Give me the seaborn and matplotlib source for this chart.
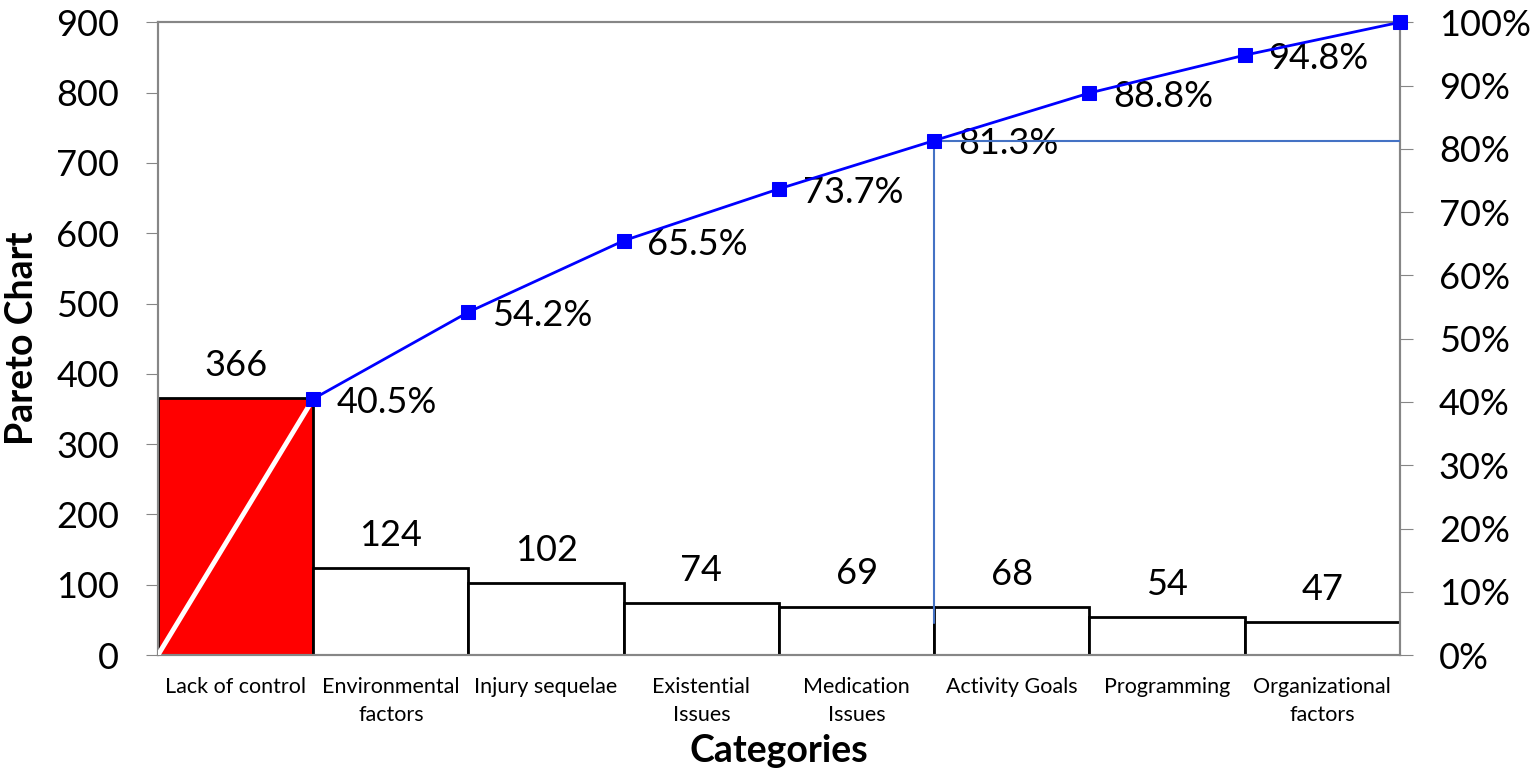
import numpy as np
import pandas as pd
import matplotlib
matplotlib.use('Agg')
import matplotlib.pyplot as plt
import seaborn as sns
from matplotlib.ticker import PercentFormatter

# data
categories = ['Lack of control', 'Environmental\nfactors', 'Injury sequelae', 'Existential\nIssues',
              'Medication\nIssues', 'Activity Goals', 'Programming', 'Organizational\nfactors']
counts = [366, 124, 102, 74, 69, 68, 54, 47]
bar_colors = ['#FF0000'] + ['#FFFFFF'] * 7

cum = np.cumsum(counts) / np.sum(counts)
cum_labels = ['%.1f%%' % (c * 100) for c in cum]

sns.set_style('white')
plt.rcParams['font.family'] = ['Lato', 'DejaVu Sans']
plt.rcParams['text.color'] = 'black'
plt.rcParams['axes.labelcolor'] = 'black'
plt.rcParams['xtick.color'] = 'black'
plt.rcParams['ytick.color'] = 'black'

df = pd.DataFrame({'cat': categories, 'count': counts})

fig = plt.figure(figsize=(15.32, 7.68), dpi=100)
ax = fig.add_axes([0.1031, 0.147, 0.8107, 0.824])

sns.barplot(data=df, x='cat', y='count', hue='cat', palette=bar_colors, legend=False,
            saturation=1, width=1.0, edgecolor='black', linewidth=2, ax=ax, zorder=2)
ax.set_xlim(-0.5, len(categories) - 0.5)
ax.set_ylim(0, 900)
ax.set_yticks(range(0, 901, 100))

# bar value labels
for i, v in enumerate(counts):
    ax.annotate(str(v), (i, v), xytext=(0, 16), textcoords='offset points',
                ha='center', va='baseline', fontsize=26)

ax.set_xlabel('Categories', fontsize=27, fontweight='bold', labelpad=7)
ax.set_ylabel('Pareto Chart', fontsize=27, fontweight='bold', labelpad=12)
ax.tick_params(axis='y', labelsize=26, length=9, color='#868686', left=True, pad=19)
ax.tick_params(axis='x', labelsize=15.5, length=0, pad=16)
for t in ax.get_xticklabels():
    t.set_linespacing(1.45)

# cumulative line on secondary axis
ax2 = ax.twinx()
ax2.set_ylim(0, 1)
ax2.set_yticks(np.arange(0, 1.01, 0.1))
ax2.yaxis.set_major_formatter(PercentFormatter(1.0, decimals=0))
ax2.tick_params(axis='y', labelsize=26, length=9, color='#868686', right=True, pad=19)

xs = np.arange(len(categories)) + 0.5
ax2.plot([-0.5, xs[0]], [0, cum[0]], color='white', linewidth=3.5, zorder=3)
sns.lineplot(x=xs, y=cum, color='#0000FF', linewidth=2, marker='s', markersize=10.5,
             markeredgecolor='#0000FF', ax=ax2, zorder=4, clip_on=False)

for x, c, lab in zip(xs[:-1], cum[:-1], cum_labels[:-1]):
    ax2.annotate(lab, (x, c), xytext=(17, -10), textcoords='offset points',
                 ha='left', va='baseline', fontsize=26)

# 80% reference lines
ax2.plot([xs[4], xs[4]], [0.05, cum[4]], color='#4472C4', linewidth=1.5, zorder=3)
ax2.plot([xs[4], len(categories) - 0.5], [cum[4], cum[4]], color='#4472C4', linewidth=1.5, zorder=3)
ax2.set_xlim(-0.5, len(categories) - 0.5)

for a in (ax, ax2):
    for s in a.spines.values():
        s.set_color('#868686')
        s.set_linewidth(1.5)

fig.savefig('out.png', dpi=100)
